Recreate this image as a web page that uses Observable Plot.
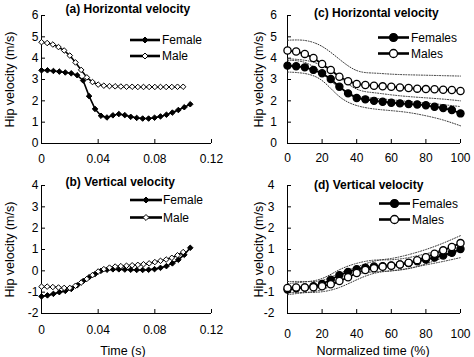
<!DOCTYPE html>
<html>
<head>
<meta charset="utf-8">
<script src="https://cdn.jsdelivr.net/npm/d3@7"></script>
<script src="https://cdn.jsdelivr.net/npm/@observablehq/plot@0.6"></script>
<style>
  body { margin: 0; background: #fff; }
  #fig { position: relative; width: 474px; height: 357px; background: #fff;
         font-family: "Liberation Sans", Arial, sans-serif; }
  #fig svg { position: absolute; overflow: visible; }
</style>
</head>
<body>
<div id="fig"></div>
<script>
// ---- Absolute time (s): single representative trial ----
const timeFemale = [0, 0.0042, 0.0084, 0.0126, 0.0168, 0.021, 0.0252, 0.0294, 0.0336, 0.0378,
  0.042, 0.0462, 0.0504, 0.0546, 0.0588, 0.063, 0.0672, 0.0714, 0.0756, 0.0798,
  0.084, 0.0882, 0.0924, 0.0966, 0.1008, 0.105];
const timeMale = [0, 0.004, 0.008, 0.012, 0.016, 0.02, 0.024, 0.028, 0.032, 0.036,
  0.04, 0.044, 0.048, 0.052, 0.056, 0.06, 0.064, 0.068, 0.072, 0.076,
  0.08, 0.084, 0.088, 0.092, 0.096, 0.1];

// horizontal hip velocity (m/s)
const horizFemale = [3.43, 3.43, 3.40, 3.37, 3.33, 3.29, 3.20, 2.95, 2.22, 1.62,
  1.30, 1.22, 1.32, 1.38, 1.33, 1.25, 1.20, 1.17, 1.17, 1.21,
  1.27, 1.35, 1.45, 1.57, 1.70, 1.84];
const horizMale = [4.75, 4.71, 4.64, 4.52, 4.36, 4.12, 3.80, 3.45, 3.10, 2.88,
  2.76, 2.71, 2.69, 2.68, 2.67, 2.66, 2.66, 2.65, 2.65, 2.65,
  2.65, 2.65, 2.65, 2.65, 2.66, 2.66];

// vertical hip velocity (m/s)
const vertFemale = [-1.20, -1.15, -1.08, -1.00, -0.94, -0.85, -0.68, -0.48, -0.30, -0.15,
  0.00, 0.05, 0.07, 0.07, 0.06, 0.05, 0.04, 0.04, 0.05, 0.08,
  0.14, 0.22, 0.35, 0.52, 0.75, 1.08];
const vertMale = [-0.74, -0.74, -0.76, -0.78, -0.80, -0.80, -0.70, -0.55, -0.38, -0.20,
  -0.03, 0.08, 0.15, 0.20, 0.22, 0.24, 0.26, 0.28, 0.31, 0.35,
  0.41, 0.47, 0.53, 0.61, 0.73, 0.88];

// ---- Normalized time (%): group means ----
const pct = [0, 5, 10, 15, 20, 25, 30, 35, 40, 45, 50, 55, 60, 65, 70, 75, 80, 85, 90, 95, 100];
const horizFemales = [3.65, 3.62, 3.57, 3.45, 3.29, 3.02, 2.66, 2.35, 2.13, 2.07, 2.00,
  1.96, 1.91, 1.88, 1.85, 1.83, 1.79, 1.72, 1.66, 1.57, 1.41];
const horizMales = [4.36, 4.31, 4.20, 4.01, 3.73, 3.45, 3.13, 2.92, 2.79, 2.74, 2.71,
  2.68, 2.66, 2.63, 2.60, 2.57, 2.55, 2.54, 2.52, 2.51, 2.46];
const vertFemales = [-0.88, -0.82, -0.78, -0.72, -0.62, -0.42, -0.20, -0.05, 0.08, 0.15, 0.20,
  0.22, 0.25, 0.30, 0.36, 0.45, 0.53, 0.62, 0.72, 0.85, 1.02];
const vertMales = [-0.80, -0.78, -0.78, -0.77, -0.72, -0.63, -0.48, -0.30, -0.10, 0.04, 0.12,
  0.19, 0.24, 0.30, 0.38, 0.50, 0.64, 0.80, 0.96, 1.12, 1.30];

// ---- Standard-deviation envelopes (dotted) ----
const bandPct = [0, 10, 20, 30, 40, 50, 60, 70, 80, 90, 100];
const horizMalesUpper   = [4.84, 4.83, 4.55, 3.95, 3.42, 3.30, 3.25, 3.22, 3.20, 3.18, 3.16];
const horizMalesLower   = [3.90, 3.80, 3.30, 2.60, 2.22, 2.12, 2.05, 1.97, 1.90, 1.82, 1.73];
const horizFemalesUpper = [3.97, 3.90, 3.65, 3.10, 2.55, 2.38, 2.28, 2.20, 2.14, 2.08, 2.00];
const horizFemalesLower = [3.35, 3.28, 2.95, 2.20, 1.78, 1.62, 1.54, 1.45, 1.30, 1.10, 0.83];
const vertMalesUpper    = [-0.50, -0.50, -0.45, -0.12, 0.18, 0.45, 0.58, 0.76, 1.00, 1.30, 1.65];
const vertMalesLower    = [-1.02, -1.02, -0.98, -0.78, -0.42, -0.12, 0.00, 0.10, 0.33, 0.62, 0.95];
const vertFemalesUpper  = [-0.60, -0.52, -0.36, 0.05, 0.35, 0.50, 0.52, 0.62, 0.80, 1.00, 1.30];
const vertFemalesLower  = [-1.12, -1.02, -0.88, -0.50, -0.16, -0.05, 0.00, 0.12, 0.28, 0.44, 0.62];

// ---- ticks and text ----
const horizTicks = [0, 1, 2, 3, 4, 5, 6];
const vertTicks = [-2, -1, 0, 1, 2, 3, 4];
const timeTicks = [0, 0.04, 0.08, 0.12];
const pctTicks = [0, 20, 40, 60, 80, 100];
const yLabel = "Hip velocity (m/s)";
const titles = ["(a) Horizontal velocity", "(b) Vertical velocity", "(c) Horizontal velocity", "(d) Vertical velocity"];
const singleNames = ["Female", "Male"];
const groupNames = ["Females", "Males"];

const zip = (xs, ys) => xs.map((x, i) => ({x, y: ys[i]}));
const FONT = "Liberation Sans, Arial, sans-serif";

function panel(cfg) {
  const {left, top, width, height, mL, mR, mT, mB, xDomain, xTicks, yDomain, yTicks,
    title, titleDx, titleDy, xLabel, xLabelDx, xPad, yPad, yLabelDx,
    series, bands, legend} = cfg;
  const plotW = width - mL - mR, plotH = height - mT - mB;
  const marks = [
    Plot.ruleX([xDomain[0]], {stroke: "#000", strokeWidth: 1}),
    Plot.ruleY([yDomain[0]], {stroke: "#000", strokeWidth: 1}),
    Plot.tickY(yTicks, {y: d => d, insetRight: plotW - 4, stroke: "#000"}),
    Plot.tickX(xTicks, {x: d => d, insetTop: plotH - 4, stroke: "#000"}),
    Plot.axisY(yTicks, {tickSize: 0, tickPadding: yPad, tickFormat: d => String(d), label: null, fontSize: 12}),
    Plot.axisX(xTicks, {tickSize: 0, tickPadding: xPad, tickFormat: d => String(d), label: null, fontSize: 12})
  ];
  for (const b of bands) {
    marks.push(Plot.line(b, {x: "x", y: "y", curve: "natural", stroke: "#333",
      strokeWidth: 1, strokeDasharray: "1,1.6"}));
  }
  for (const s of series) {
    marks.push(Plot.line(s.data, {x: "x", y: "y", stroke: "#000", strokeWidth: s.lw}));
    marks.push(Plot.dot(s.data, {x: "x", y: "y", symbol: s.symbol, r: s.r,
      fill: s.fill, stroke: "#000", strokeWidth: s.sw}));
  }
  marks.push(Plot.text([title], {frameAnchor: "top-left", textAnchor: "start", lineAnchor: "middle",
    dx: titleDx, dy: titleDy, fontWeight: "bold", fontSize: 12}));
  marks.push(Plot.text([yLabel], {frameAnchor: "left", textAnchor: "middle", lineAnchor: "middle",
    rotate: -90, dx: yLabelDx, fontSize: 12.5}));
  if (xLabel) marks.push(Plot.text([xLabel], {frameAnchor: "bottom", textAnchor: "middle", lineAnchor: "middle",
    dx: xLabelDx, dy: 37.5, fontSize: 12.5}));

  const svg = Plot.plot({
    width, height, marginLeft: mL, marginRight: mR, marginTop: mT, marginBottom: mB,
    x: {domain: xDomain, axis: null},
    y: {domain: yDomain, axis: null},
    style: {fontFamily: FONT, fontSize: "12px", background: "transparent", color: "#000", overflow: "visible"},
    marks
  });
  svg.style.left = left + "px";
  svg.style.top = top + "px";

  // legend: line segment with marker, then the series name
  const g = d3.select(svg).append("g")
    .attr("font-family", FONT).attr("font-size", 12).attr("text-anchor", "start");
  series.forEach((s, i) => {
    const y = legend.y[i];
    g.append("line").attr("x1", legend.x1).attr("x2", legend.x2).attr("y1", y).attr("y2", y)
      .attr("stroke", "#000").attr("stroke-width", 2.6);
    const sym = s.symbol === "diamond2" ? d3.symbolDiamond2 : d3.symbolCircle;
    g.append("path").attr("d", d3.symbol(sym, Math.PI * s.lr * s.lr)())
      .attr("transform", `translate(${(legend.x1 + legend.x2) / 2},${y})`)
      .attr("fill", s.fill).attr("stroke", "#000").attr("stroke-width", s.sw);
    g.append("text").attr("x", legend.tx).attr("y", y).attr("dy", "0.35em")
      .attr("text-anchor", "start").text(s.name);
  });
  document.getElementById("fig").appendChild(svg);
}

const diamondF = (name, data) => ({name, data, symbol: "diamond2", r: 2.5, lr: 2.7, fill: "#000", sw: 1, lw: 1.6});
const diamondM = (name, data) => ({name, data, symbol: "diamond2", r: 2.5, lr: 2.7, fill: "#fff", sw: 1, lw: 1.6});
const circleF = (name, data) => ({name, data, symbol: "circle", r: 3.6, lr: 4, fill: "#000", sw: 1.2, lw: 1.8});
const circleM = (name, data) => ({name, data, symbol: "circle", r: 3.6, lr: 4, fill: "#fff", sw: 1.3, lw: 1.8});

// (a) horizontal, absolute time
panel({left: 0, top: 0, width: 237, height: 178, mL: 41, mR: 26, mT: 15, mB: 35,
  xDomain: [0, 0.12], xTicks: timeTicks, yDomain: [0, 6], yTicks: horizTicks,
  title: titles[0], titleDx: 24, titleDy: -6, xLabel: null, xPad: 11, yPad: 3, yLabelDx: -31.5,
  series: [diamondF(singleNames[0], zip(timeFemale, horizFemale)), diamondM(singleNames[1], zip(timeMale, horizMale))],
  bands: [], legend: {x1: 130, x2: 160, tx: 162, y: [40, 56]}});

// (b) vertical, absolute time
panel({left: 0, top: 178, width: 237, height: 179, mL: 41, mR: 26, mT: 7, mB: 44,
  xDomain: [0, 0.12], xTicks: timeTicks, yDomain: [-2, 4], yTicks: vertTicks,
  title: titles[1], titleDx: 24, titleDy: -3.5, xLabel: "Time (s)", xLabelDx: -3.5, xPad: 12, yPad: 3, yLabelDx: -31.5,
  series: [diamondF(singleNames[0], zip(timeFemale, vertFemale)), diamondM(singleNames[1], zip(timeMale, vertMale))],
  bands: [], legend: {x1: 130, x2: 162, tx: 163, y: [22, 39.5]}});

// (c) horizontal, normalized time
panel({left: 237, top: 0, width: 237, height: 178, mL: 50, mR: 14, mT: 15, mB: 35,
  xDomain: [0, 100], xTicks: pctTicks, yDomain: [0, 6], yTicks: horizTicks,
  title: titles[2], titleDx: 26.5, titleDy: -2.5, xLabel: null, xPad: 9.5, yPad: 10.5, yLabelDx: -29,
  series: [circleF(groupNames[0], zip(pct, horizFemales)), circleM(groupNames[1], zip(pct, horizMales))],
  bands: [zip(bandPct, horizMalesUpper), zip(bandPct, horizMalesLower),
          zip(bandPct, horizFemalesUpper), zip(bandPct, horizFemalesLower)],
  legend: {x1: 141, x2: 172, tx: 174, y: [37.5, 53.5]}});

// (d) vertical, normalized time
panel({left: 237, top: 178, width: 237, height: 179, mL: 50, mR: 14, mT: 7, mB: 44,
  xDomain: [0, 100], xTicks: pctTicks, yDomain: [-2, 4], yTicks: vertTicks,
  title: titles[3], titleDx: 26.5, titleDy: 0, xLabel: "Normalized time (%)", xLabelDx: -1, xPad: 15.5, yPad: 13, yLabelDx: -29,
  series: [circleF(groupNames[0], zip(pct, vertFemales)), circleM(groupNames[1], zip(pct, vertMales))],
  bands: [zip(bandPct, vertMalesUpper), zip(bandPct, vertMalesLower),
          zip(bandPct, vertFemalesUpper), zip(bandPct, vertFemalesLower)],
  legend: {x1: 142, x2: 173, tx: 175, y: [25.5, 41.5]}});
</script>
</body>
</html>
